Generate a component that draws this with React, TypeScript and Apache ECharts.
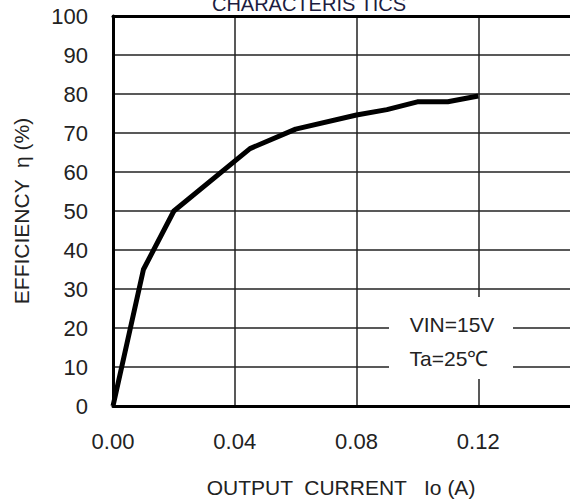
import React, { useEffect, useRef } from "react";
import * as echarts from "echarts";

const currentA = [0, 0.01, 0.02, 0.045, 0.06, 0.08, 0.09, 0.1, 0.11, 0.12];
const efficiency = [0, 35, 50, 66, 71, 74.6, 76, 78, 78, 79.5];
const legendLines = ["VIN=15V", "Ta=25\u2103"];
const titleText = "CHARACTERIS TICS";
const xTitle = "OUTPUT  CURRENT   Io (A)";
const yTitle = "EFFICIENCY  \u03b7 (%)";

const FONT = "'Liberation Sans', Arial, sans-serif";
const TXT = "#222";

export default function App() {
  const ref = useRef<HTMLDivElement>(null);
  useEffect(() => {
    if (!ref.current) return;
    const chart = echarts.init(ref.current, null, { renderer: "svg" });
    const data = currentA.map((x, i) => [x, efficiency[i]]);
    chart.setOption({
      animation: false,
      backgroundColor: "#fff",
      grid: { left: 113, top: 16, right: -30, bottom: 96, outerBoundsMode: "none", containLabel: false },
      xAxis: [
        {
          type: "value",
          min: 0,
          max: 0.16,
          interval: 0.04,
          axisLine: { show: true, onZero: false, lineStyle: { color: "#000", width: 3 } },
          axisTick: { show: false },
          axisLabel: {
            margin: 24,
            color: TXT,
            fontFamily: FONT,
            fontSize: 22,
            showMaxLabel: false,
            formatter: (v: number) => v.toFixed(2),
          },
          splitLine: { show: true, lineStyle: { color: "#222", width: 1.5 } },
        },
        {
          type: "value",
          position: "top",
          min: 0,
          max: 0.16,
          axisLine: { show: true, onZero: false, lineStyle: { color: "#000", width: 3 } },
          axisTick: { show: false },
          axisLabel: { show: false },
          splitLine: { show: false },
        },
      ],
      yAxis: {
        type: "value",
        min: 0,
        max: 100,
        interval: 10,
        axisLine: { show: true, onZero: false, lineStyle: { color: "#000", width: 3 } },
        axisTick: { show: false },
        axisLabel: { margin: 25, color: TXT, fontFamily: FONT, fontSize: 22 },
        splitLine: { show: true, lineStyle: { color: "#222", width: 1.5 } },
      },
      series: [
        {
          type: "line",
          data,
          showSymbol: false,
          symbol: "none",
          lineStyle: { color: "#000", width: 5, join: "round" },
          z: 3,
        },
      ],
      graphic: [
        {
          type: "rect",
          shape: { x: 389, y: 297, width: 124, height: 82 },
          style: { fill: "#fff" },
          z: 10,
        },
        {
          type: "text",
          x: 452,
          y: 324,
          z: 11,
          style: {
            text: legendLines[0],
            fill: TXT,
            font: `21px ${FONT}`,
            align: "center",
            verticalAlign: "middle",
          },
        },
        {
          type: "text",
          x: 449,
          y: 358,
          z: 11,
          style: {
            text: legendLines[1],
            fill: TXT,
            font: `21px ${FONT}`,
            align: "center",
            verticalAlign: "middle",
          },
        },
        {
          type: "text",
          x: 309,
          y: 4,
          z: 11,
          style: {
            text: titleText,
            fill: "#1c1c40",
            font: `20px ${FONT}`,
            align: "center",
            verticalAlign: "middle",
          },
        },
        {
          type: "text",
          x: 341,
          y: 487,
          z: 11,
          style: {
            text: xTitle,
            fill: TXT,
            font: `21px ${FONT}`,
            align: "center",
            verticalAlign: "middle",
          },
        },
        {
          type: "text",
          x: 21,
          y: 211,
          rotation: Math.PI / 2,
          z: 11,
          style: {
            text: yTitle,
            fill: TXT,
            font: `21px ${FONT}`,
            align: "center",
            verticalAlign: "middle",
          },
        },
      ],
    });
    return () => chart.dispose();
  }, []);
  return <div ref={ref} style={{ width: 570, height: 502, position: "absolute", left: 0, top: 0 }} />;
}
